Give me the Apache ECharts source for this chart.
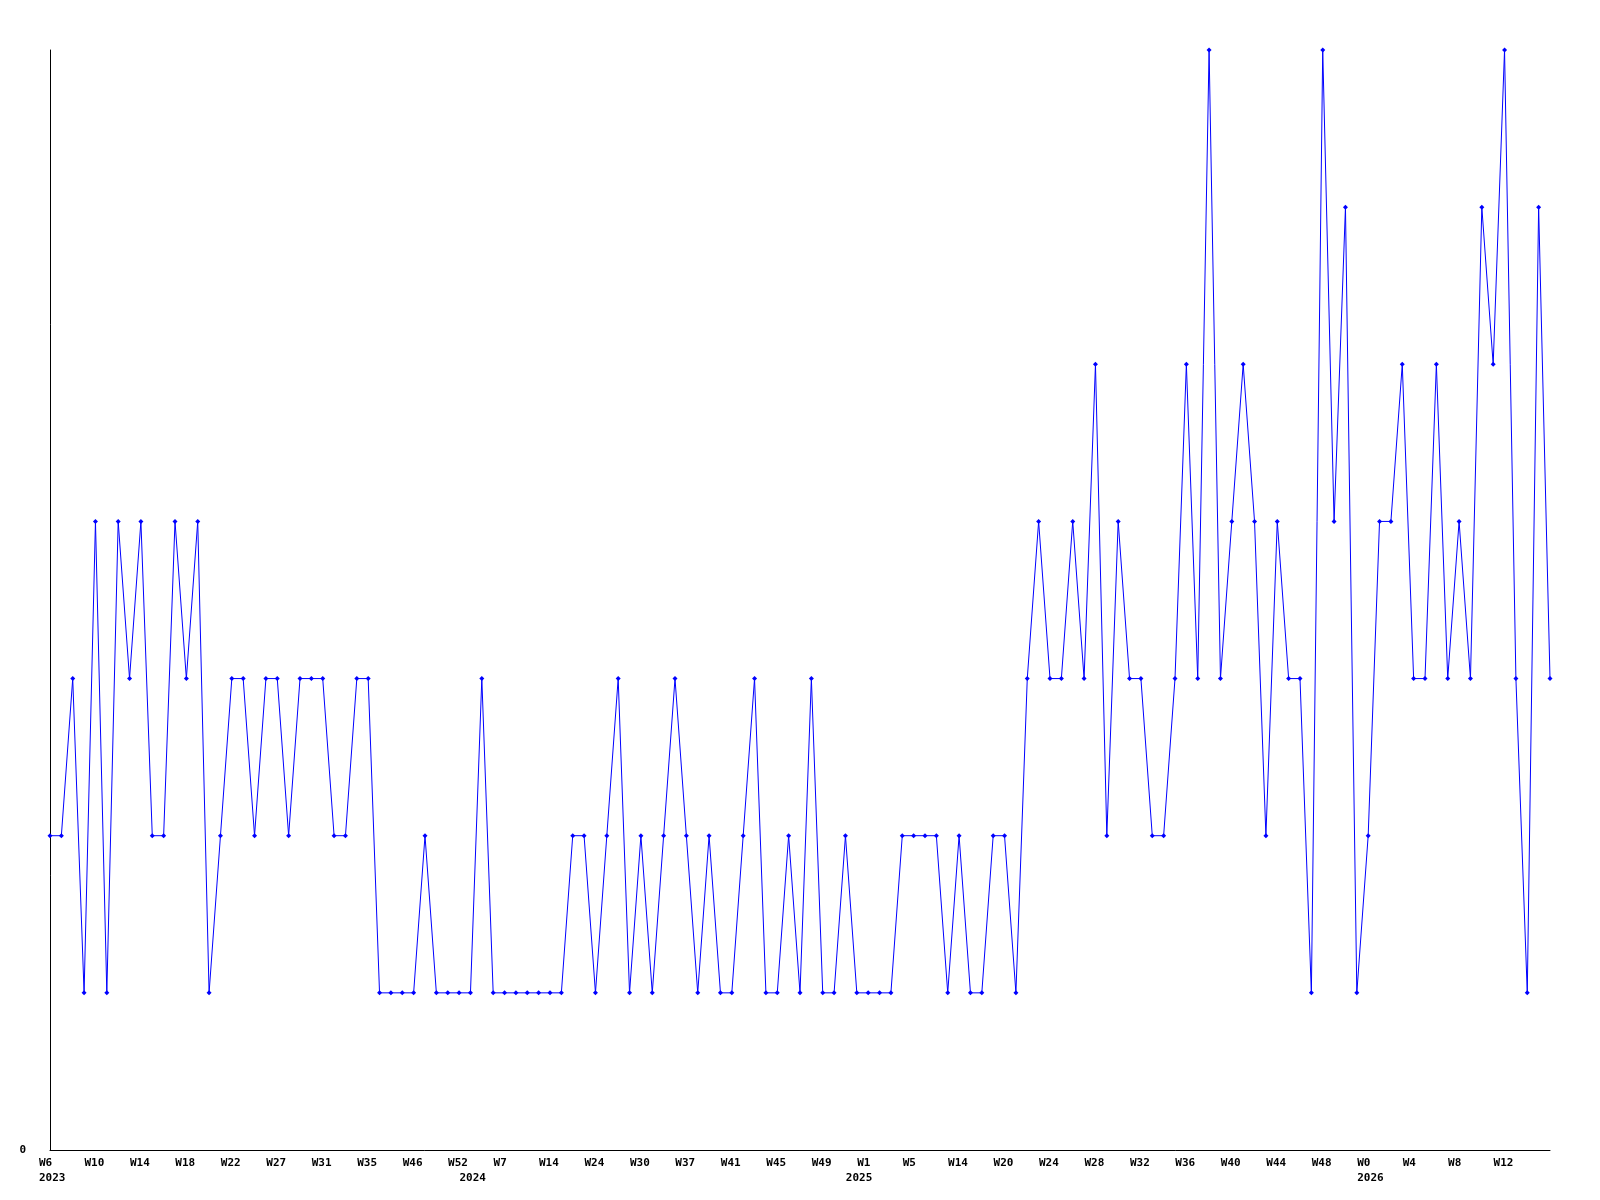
<!DOCTYPE html>
<html>
<head>
<meta charset="utf-8">
<script src="https://cdn.jsdelivr.net/npm/echarts@6/dist/echarts.min.js"></script>
<style>
html,body{margin:0;padding:0;background:#fff;}
#chart{width:1600px;height:1200px;}
</style>
</head>
<body>
<div id="chart"></div>
<script>
// Week categories (only every 4th is labelled in the chart)
const weeks = [
  "W6","W7","W8","W9",
  "W10","W11","W12","W13",
  "W14","W15","W16","W17",
  "W18","W19","W20","W21",
  "W22","W23","W24","W26",
  "W27","W28","W29","W30",
  "W31","W32","W33","W34",
  "W35","W37","W40","W43",
  "W46","W48","W49","W51",
  "W52","W1","W3","W5",
  "W7","W8","W10","W12",
  "W14","W16","W19","W22",
  "W24","W26","W28","W29",
  "W30","W32","W34","W36",
  "W37","W38","W39","W40",
  "W41","W42","W43","W44",
  "W45","W46","W47","W48",
  "W49","W50","W51","W0",
  "W1","W2","W3","W4",
  "W5","W7","W9","W12",
  "W14","W16","W17","W19",
  "W20","W21","W22","W23",
  "W24","W25","W26","W27",
  "W28","W29","W30","W31",
  "W32","W33","W34","W35",
  "W36","W37","W38","W39",
  "W40","W41","W42","W43",
  "W44","W45","W46","W47",
  "W48","W49","W50","W51",
  "W0","W1","W2","W3",
  "W4","W5","W6","W7",
  "W8","W9","W10","W11",
  "W12","W13","W14","W15",
  "W16"
];

// Year labels, placed at the first week of each year
const yearStartIndex = [0, 37, 71, 116];
const yearNames = ["2023", "2024", "2025", "2026"];

const counts = [
  2,2,3,1,4,1,4,3,4,2,
  2,4,3,4,1,2,3,3,2,3,
  3,2,3,3,3,2,2,3,3,1,
  1,1,1,2,1,1,1,1,3,1,
  1,1,1,1,1,1,2,2,1,2,
  3,1,2,1,2,3,2,1,2,1,
  1,2,3,1,1,2,1,3,1,1,
  2,1,1,1,1,2,2,2,2,1,
  2,1,1,2,2,1,3,4,3,3,
  4,3,5,2,4,3,3,2,2,3,
  5,3,7,3,4,5,4,2,4,3,
  3,1,7,4,6,1,2,4,4,5,
  3,3,5,3,4,3,6,5,7,3,
  1,6,3
];

const yTicks = [0];

const yearByIndex = weeks.map(function () { return ''; });
yearStartIndex.forEach(function (idx, k) { yearByIndex[idx] = yearNames[k]; });

const chart = echarts.init(document.getElementById('chart'), null, {renderer:'canvas'});
const labelFont = {
  fontFamily: 'DejaVu Sans Mono',
  fontWeight: 'bold',
  fontSize: 11,
  color: '#000'
};
chart.setOption({
  animation: false,
  backgroundColor: '#fff',
  grid: {left: 50, right: 50, top: 50, bottom: 50, containLabel: false},
  xAxis: [{
    type: 'category',
    data: weeks,
    boundaryGap: false,
    axisLine: {show: true, lineStyle: {color: '#000', width: 1}},
    axisTick: {show: false},
    splitLine: {show: false},
    axisLabel: Object.assign({
      interval: function (i) { return i % 4 === 0 && i < weeks.length - 1; },
      align: 'left',
      padding: [0, 0, 0, -11],
      lineHeight: 15,
      margin: 6
    }, labelFont)
  }, {
    type: 'category',
    data: weeks,
    position: 'bottom',
    boundaryGap: false,
    axisLine: {show: false},
    axisTick: {show: false},
    splitLine: {show: false},
    axisLabel: Object.assign({
      interval: function (i) { return yearByIndex[i] !== ''; },
      formatter: function (v, i) { return yearByIndex[i]; },
      align: 'left',
      padding: [0, 0, 0, -11],
      lineHeight: 15,
      margin: 21
    }, labelFont)
  }],
  yAxis: {
    type: 'value',
    min: 0,
    max: 7,
    interval: 7,
    axisLine: {show: true, lineStyle: {color: '#000', width: 1}},
    axisTick: {show: false},
    splitLine: {show: false},
    axisLabel: Object.assign({
      margin: 24,
      formatter: function (v) { return yTicks.indexOf(v) >= 0 ? String(v) : ''; }
    }, labelFont)
  },
  series: [{
    type: 'line',
    xAxisIndex: 0,
    data: counts,
    symbol: 'diamond',
    symbolSize: 5,
    showAllSymbol: true,
    lineStyle: {color: '#0000ff', width: 1},
    itemStyle: {color: '#0000ff'}
  }]
});
</script>
</body>
</html>
